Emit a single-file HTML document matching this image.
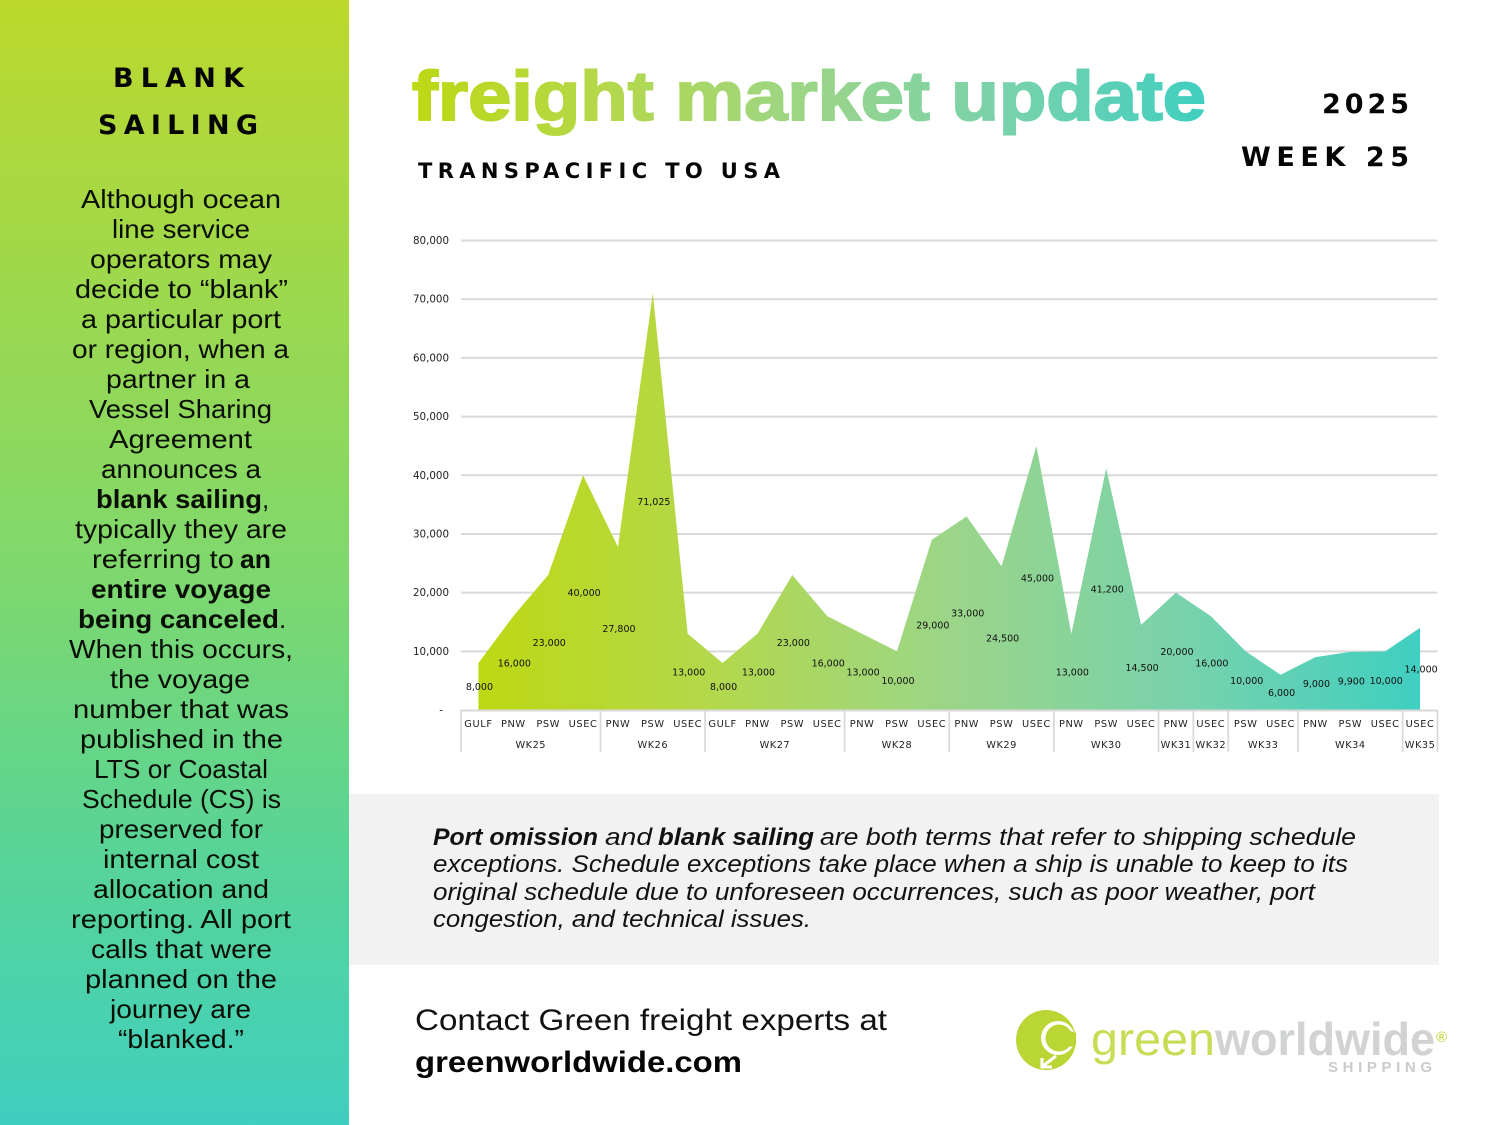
<!DOCTYPE html>
<html lang="en">
<head>
<meta charset="utf-8">
<title>Freight Market Update</title>
<style>
html,body{margin:0;padding:0;background:#fff;width:1500px;height:1125px;overflow:hidden}
svg{display:block}
text{font-family:"Liberation Sans",sans-serif}
.head{font-family:"DejaVu Sans",sans-serif;font-weight:700;fill:#050505}
.side{font-size:26px;fill:#0a0f05}
.b{font-weight:700}
.note{font-size:24px;font-style:italic;fill:#111}
.dl{font-family:"DejaVu Sans",sans-serif;font-size:9.5px;fill:#111}
.tick{font-family:"DejaVu Sans",sans-serif;font-size:10.3px;fill:#222}
.cat,.wk{font-family:"DejaVu Sans",sans-serif;font-size:9.8px;fill:#222}
</style>
</head>
<body>
<svg id="page" xmlns="http://www.w3.org/2000/svg" width="1500" height="1125" viewBox="0 0 1500 1125">
<defs>
<linearGradient id="sideGrad" x1="0" y1="0" x2="0" y2="1">
<stop offset="0" stop-color="#bcd82c"/><stop offset="0.5" stop-color="#80d86c"/><stop offset="0.75" stop-color="#59d495"/><stop offset="1" stop-color="#3fcfc0"/>
</linearGradient>
<linearGradient id="hGrad" x1="0" y1="0" x2="1" y2="0">
<stop offset="0" stop-color="#bdd813"/><stop offset="0.25" stop-color="#b3d84c"/><stop offset="0.5" stop-color="#9bd588"/><stop offset="0.75" stop-color="#78d2ac"/><stop offset="1" stop-color="#3fcfc0"/>
</linearGradient>
<linearGradient id="titleGrad" gradientUnits="userSpaceOnUse" x1="411" y1="0" x2="1207" y2="0">
<stop offset="0" stop-color="#bdd813"/><stop offset="0.25" stop-color="#b3d84c"/><stop offset="0.5" stop-color="#9bd588"/><stop offset="0.75" stop-color="#78d2ac"/><stop offset="1" stop-color="#3fcfc0"/>
</linearGradient>
</defs>

<rect x="0" y="0" width="349" height="1125" fill="url(#sideGrad)"/>
<g>
<text class="head" x="113" y="87" font-size="27" textLength="131" lengthAdjust="spacing">BLANK</text>
<text class="head" x="98" y="134" font-size="27" textLength="160" lengthAdjust="spacing">SAILING</text>
</g>
<g>
<text class="side" x="81" y="208" textLength="200" lengthAdjust="spacingAndGlyphs">Although ocean</text>
<text class="side" x="112" y="238" textLength="138" lengthAdjust="spacingAndGlyphs">line service</text>
<text class="side" x="90" y="268" textLength="182" lengthAdjust="spacingAndGlyphs">operators may</text>
<text class="side" x="75" y="298" textLength="213" lengthAdjust="spacingAndGlyphs">decide to “blank”</text>
<text class="side" x="81" y="328" textLength="200" lengthAdjust="spacingAndGlyphs">a particular port</text>
<text class="side" x="72" y="358" textLength="217" lengthAdjust="spacingAndGlyphs">or region, when a</text>
<text class="side" x="106" y="388" textLength="144" lengthAdjust="spacingAndGlyphs">partner in a</text>
<text class="side" x="89" y="418" textLength="183" lengthAdjust="spacingAndGlyphs">Vessel Sharing</text>
<text class="side" x="109" y="448" textLength="143" lengthAdjust="spacingAndGlyphs">Agreement</text>
<text class="side" x="101" y="478" textLength="160" lengthAdjust="spacingAndGlyphs">announces a</text>
<text class="side b" x="96" y="508" textLength="166" lengthAdjust="spacingAndGlyphs">blank sailing</text>
<text class="side" x="262" y="508">,</text>
<text class="side" x="75" y="538" textLength="212" lengthAdjust="spacingAndGlyphs">typically they are</text>
<text class="side" x="92" y="568" textLength="142" lengthAdjust="spacingAndGlyphs">referring to</text>
<text class="side b" x="240" y="568" textLength="31" lengthAdjust="spacingAndGlyphs">an</text>
<text class="side b" x="91" y="598" textLength="180" lengthAdjust="spacingAndGlyphs">entire voyage</text>
<text class="side b" x="78" y="628" textLength="201" lengthAdjust="spacingAndGlyphs">being canceled</text>
<text class="side" x="279" y="628">.</text>
<text class="side" x="69" y="658" textLength="224" lengthAdjust="spacingAndGlyphs">When this occurs,</text>
<text class="side" x="110" y="688" textLength="140" lengthAdjust="spacingAndGlyphs">the voyage</text>
<text class="side" x="73" y="718" textLength="216" lengthAdjust="spacingAndGlyphs">number that was</text>
<text class="side" x="80" y="748" textLength="203" lengthAdjust="spacingAndGlyphs">published in the</text>
<text class="side" x="94" y="778" textLength="174" lengthAdjust="spacingAndGlyphs">LTS or Coastal</text>
<text class="side" x="82" y="808" textLength="199" lengthAdjust="spacingAndGlyphs">Schedule (CS) is</text>
<text class="side" x="99" y="838" textLength="164" lengthAdjust="spacingAndGlyphs">preserved for</text>
<text class="side" x="103" y="868" textLength="156" lengthAdjust="spacingAndGlyphs">internal cost</text>
<text class="side" x="93" y="898" textLength="176" lengthAdjust="spacingAndGlyphs">allocation and</text>
<text class="side" x="71" y="928" textLength="220" lengthAdjust="spacingAndGlyphs">reporting. All port</text>
<text class="side" x="91" y="958" textLength="181" lengthAdjust="spacingAndGlyphs">calls that were</text>
<text class="side" x="85" y="988" textLength="192" lengthAdjust="spacingAndGlyphs">planned on the</text>
<text class="side" x="110" y="1018" textLength="141" lengthAdjust="spacingAndGlyphs">journey are</text>
<text class="side" x="118" y="1048" textLength="126" lengthAdjust="spacingAndGlyphs">“blanked.”</text>
</g>

<text x="412" y="120" font-size="70" font-weight="700" fill="url(#titleGrad)" textLength="794" lengthAdjust="spacingAndGlyphs" stroke="url(#titleGrad)" stroke-width="2">freight market update</text>
<text class="head" x="418" y="178" font-size="21" textLength="362" lengthAdjust="spacing">TRANSPACIFIC TO USA</text>
<text class="head" x="1322" y="113" font-size="27" textLength="87" lengthAdjust="spacing">2025</text>
<text class="head" x="1241" y="166" font-size="27" textLength="168" lengthAdjust="spacing">WEEK 25</text>

<g id="chart"></g>

<rect x="349" y="794" width="1090" height="171" fill="#f2f2f2"/>
<g>
<text class="note b" x="433" y="845" textLength="165" lengthAdjust="spacingAndGlyphs">Port omission</text>
<text class="note" x="605" y="845" textLength="47" lengthAdjust="spacingAndGlyphs">and</text>
<text class="note b" x="658" y="845" textLength="156" lengthAdjust="spacingAndGlyphs">blank sailing</text>
<text class="note" x="820" y="845" textLength="536" lengthAdjust="spacingAndGlyphs">are both terms that refer to shipping schedule</text>
<text class="note" x="433" y="872" textLength="915" lengthAdjust="spacingAndGlyphs">exceptions. Schedule exceptions take place when a ship is unable to keep to its</text>
<text class="note" x="433" y="900" textLength="882" lengthAdjust="spacingAndGlyphs">original schedule due to unforeseen occurrences, such as poor weather, port</text>
<text class="note" x="433" y="927" textLength="378" lengthAdjust="spacingAndGlyphs">congestion, and technical issues.</text>
</g>

<text x="415" y="1030" font-size="30" fill="#111" textLength="472" lengthAdjust="spacingAndGlyphs">Contact Green freight experts at</text>
<text x="415" y="1072" font-size="30" font-weight="700" fill="#050505" textLength="327" lengthAdjust="spacingAndGlyphs">greenworldwide.com</text>

<g>
<circle cx="1046" cy="1040" r="30" fill="#b9d634"/>
<circle cx="1058" cy="1038" r="17" fill="#fff"/>
<circle cx="1059" cy="1038" r="13.5" fill="#b9d634"/>
<path d="M1070 1031 L1076 1033 L1076 1045 L1070 1047 Z" fill="#b9d634"/>
<path d="M1042 1058 L1042 1067 L1052 1067 M1043 1066 L1056 1056" fill="none" stroke="#fff" stroke-width="3"/>
<text x="1091" y="1055" font-size="46" fill="#c6de55" textLength="124" lengthAdjust="spacingAndGlyphs">green</text>
<text x="1215" y="1055" font-size="46" font-weight="700" fill="#d0d2d4" textLength="220" lengthAdjust="spacingAndGlyphs">worldwide</text>
<text x="1436" y="1042" font-size="15" font-weight="700" fill="#c6de55">®</text>
<text x="1328" y="1072" font-size="15" font-weight="700" fill="#c9cbcd" textLength="104" lengthAdjust="spacing">SHIPPING</text>
</g>

<script>
var categories = ['GULF','PNW','PSW','USEC','PNW','PSW','USEC','GULF','PNW','PSW','USEC','PNW','PSW','USEC','PNW','PSW','USEC','PNW','PSW','USEC','PNW','USEC','PSW','USEC','PNW','PSW','USEC','USEC'];
var blankedTeu = [8000,16000,23000,40000,27800,71025,13000,8000,13000,23000,16000,13000,10000,29000,33000,24500,45000,13000,41200,14500,20000,16000,10000,6000,9000,9900,10000,14000];
var weekLabels = ['WK25','WK26','WK27','WK28','WK29','WK30','WK31','WK32','WK33','WK34','WK35'];
var weekCategoryCounts = [4,3,4,3,3,3,1,1,2,3,1];
var yTicks = [0,10000,20000,30000,40000,50000,60000,70000,80000];

var NS = 'http://www.w3.org/2000/svg';
var chart = document.getElementById('chart');
var plotLeft = 461, plotRight = 1437.5, plotBottom = 710, plotTop = 240.5, yMax = 80000;
var step = (plotRight - plotLeft) / categories.length;
function xEdge(i){ return plotLeft + i * step; }
function xScale(i){ return plotLeft + (i + 0.5) * step; }
function yScale(v){ return plotBottom - (v / yMax) * (plotBottom - plotTop); }
function fmt(v){ return v === 0 ? '-' : String(v).replace(/\B(?=(\d{3})+$)/g, ','); }
function mk(tag, attrs){
  var el = document.createElementNS(NS, tag);
  for (var k in attrs) el.setAttribute(k, attrs[k]);
  chart.appendChild(el);
  return el;
}

yTicks.forEach(function(t){
  if (t > 0) {
    var g = mk('line', {x1: plotLeft, x2: plotRight, y1: yScale(t), y2: yScale(t), stroke: '#d9d9d9', 'stroke-width': 2});
    
    
  }
  var l = mk('text', {x: t === 0 ? 443 : 449, y: yScale(t) + 3.5, 'text-anchor': 'end', 'class': 'tick'});
  l.textContent = fmt(t);
  
  
});

var d = 'M' + xScale(0) + ' ' + plotBottom;
blankedTeu.forEach(function(v, i){ d += ' L' + xScale(i) + ' ' + yScale(v); });
d += ' L' + xScale(blankedTeu.length - 1) + ' ' + plotBottom + ' Z';
var area = mk('path', {d: d, fill: 'url(#hGrad)'});



var axisLine = mk('line', {x1: plotLeft, x2: plotRight, y1: plotBottom + 0.5, y2: plotBottom + 0.5, stroke: '#d9d9d9', 'stroke-width': 2});



var start = 0;
function sep(i){
  var s = mk('line', {x1: xEdge(i), x2: xEdge(i), y1: plotBottom, y2: 752, stroke: '#d9d9d9', 'stroke-width': 1.8});
  
  
}
sep(0);
weekLabels.forEach(function(w, i){
  var n = weekCategoryCounts[i];
  var wl = mk('text', {x: xEdge(start + n / 2), y: 748, 'text-anchor': 'middle', 'class': 'wk', 'letter-spacing': '0.5'});
  wl.textContent = w;
  
  
  start += n;
  sep(start);
});

categories.forEach(function(c, i){
  var cl = mk('text', {x: xScale(i), y: 727, 'text-anchor': 'middle', 'class': 'cat', 'letter-spacing': '0.6'});
  cl.textContent = c;
  
  
});

blankedTeu.forEach(function(v, i){
  var dl = mk('text', {x: xScale(i) + 1, y: yScale(v / 2) + 3.5, 'text-anchor': 'middle', 'class': 'dl'});
  dl.textContent = fmt(v);
  
  
});
</script>
</svg>
</body>
</html>
